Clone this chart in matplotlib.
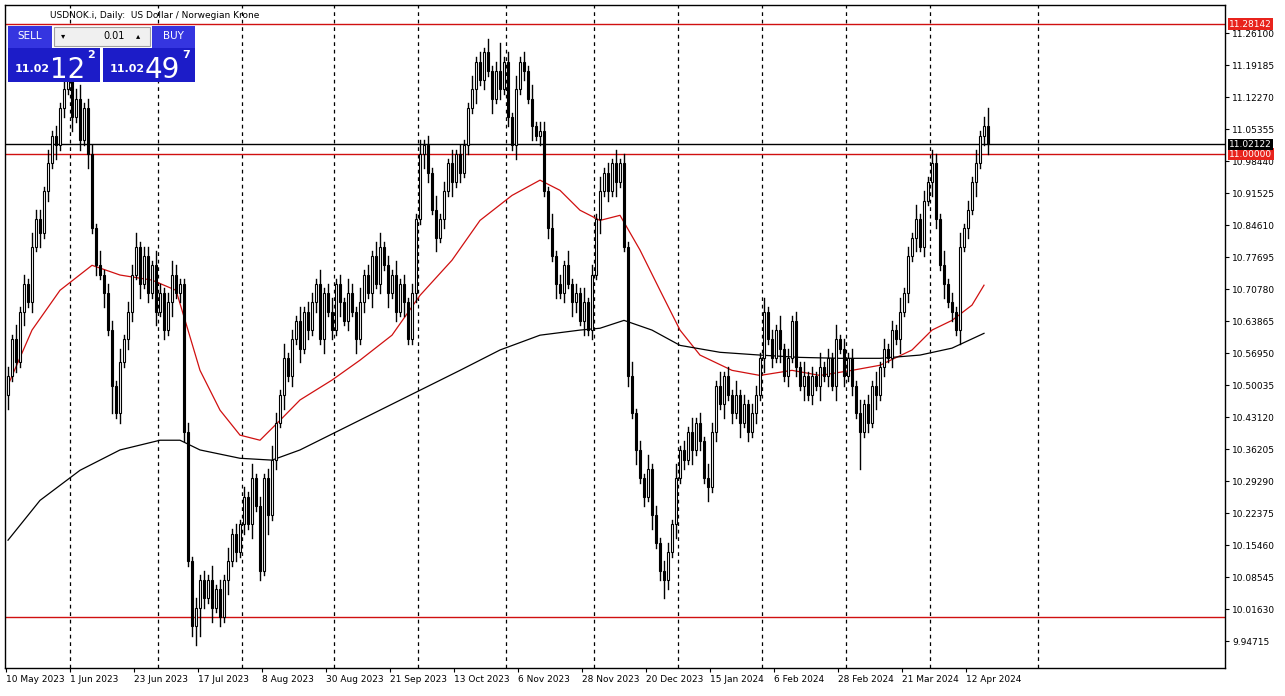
import matplotlib.pyplot as plt
import matplotlib.patches as mpatches

# daily closes, USDNOK, from 10 May 2023
closes = [
    10.52, 10.60, 10.55, 10.66, 10.72, 10.68, 10.80, 10.86, 10.83, 10.92, 10.98, 11.04, 11.02, 11.10,
    11.14, 11.18, 11.08, 11.12, 11.03, 11.10, 11.00,
    10.84, 10.76, 10.74, 10.70, 10.62, 10.50, 10.44, 10.55, 10.60, 10.66,
    10.74, 10.80, 10.72, 10.78, 10.70, 10.76, 10.66, 10.70, 10.62, 10.68, 10.74, 10.70, 10.72,
    10.40, 10.12, 9.98, 10.02, 10.08,
    10.04, 10.08, 10.02, 10.06, 10.00, 10.08, 10.12, 10.18, 10.14, 10.20,
    10.26, 10.20, 10.30, 10.24, 10.10, 10.30, 10.22, 10.34,
    10.42, 10.48, 10.56, 10.52, 10.60, 10.64, 10.58, 10.66, 10.62,
    10.68, 10.72, 10.60, 10.70, 10.66, 10.62, 10.72, 10.68, 10.64, 10.70, 10.66, 10.60, 10.68, 10.74, 10.70, 10.78, 10.72,
    10.80, 10.76, 10.70, 10.74, 10.66, 10.72, 10.68, 10.60,
    10.70, 10.86, 11.00, 11.02,
    10.96, 10.88, 10.82, 10.86, 10.92, 10.98, 10.94, 11.00, 10.96, 11.02,
    11.10, 11.14, 11.20, 11.16, 11.22, 11.18, 11.12, 11.18, 11.14, 11.20,
    11.08, 11.02, 11.14, 11.20, 11.18, 11.12, 11.06, 11.04, 11.05,
    10.92, 10.84, 10.78, 10.72, 10.70, 10.76, 10.72, 10.68,
    10.70, 10.64, 10.68, 10.62, 10.74, 10.86, 10.92, 10.96, 10.92, 10.98, 10.94, 10.98,
    10.80, 10.52, 10.44, 10.36, 10.30, 10.26, 10.32, 10.22, 10.16, 10.10, 10.08,
    10.14, 10.20, 10.30, 10.36, 10.34, 10.40, 10.36, 10.42, 10.38, 10.30, 10.28,
    10.40, 10.50, 10.46, 10.52, 10.48, 10.44, 10.48, 10.42, 10.46, 10.40, 10.44,
    10.48, 10.56, 10.66, 10.60, 10.56, 10.62, 10.58, 10.52, 10.56, 10.64,
    10.54, 10.50, 10.52, 10.48, 10.52, 10.50, 10.54, 10.52, 10.56, 10.50, 10.60, 10.58, 10.52, 10.56,
    10.50, 10.44, 10.40, 10.46, 10.42, 10.50, 10.48, 10.54, 10.58, 10.56,
    10.62, 10.60, 10.66, 10.70, 10.78, 10.82, 10.86, 10.80, 10.90, 10.94, 10.98,
    10.86, 10.76, 10.72, 10.68, 10.66, 10.62, 10.80,
    10.84, 10.88, 10.94, 10.98, 11.04, 11.06, 11.02122,
]
first_open = 10.48

# wick lengths beyond the body, in hundredths
wick_up = ("21312132213121" "3212312" "2131221312" "2312213212321"
           "12121" "2131213121" "21312123" "213121312"
           "21312312132131213" "31213121" "2131" "2131213121"
           "1312131261" "213121312" "21312131" "213121312131"
           "21312131212" "21312131213" "21312131212" "2131213121"
           "21312131213121" "2131213121" "21312131213" "2131213" "121312" "4")
wick_dn = ("31213121312131" "2131213" "1213161212" "2131213121312"
           "21246" "2131213121" "21312141" "213121312"
           "12131213121312131" "21312131" "1213" "2131213121"
           "2131213121" "213121312" "12131213" "213121312131"
           "12131213124" "21312131213" "12131213121" "2131213121"
           "21312131213121" "2181213121" "21312131213" "2131213" "121312" "2")

ma50_bar = [0, 6, 13, 21, 28, 36, 42, 45, 48, 53, 58, 63, 68, 73, 81, 88, 96, 103, 111, 118, 126,
            133, 138, 143, 148, 153, 158, 163, 168, 173, 181, 188, 196, 203, 211, 218, 226, 231, 236, 241, 244]
ma50_val = [10.501, 10.620, 10.706, 10.760, 10.739, 10.728, 10.706, 10.620, 10.533, 10.447, 10.393,
            10.382, 10.425, 10.469, 10.512, 10.555, 10.609, 10.695, 10.771, 10.857, 10.911, 10.944,
            10.922, 10.879, 10.857, 10.868, 10.793, 10.706, 10.620, 10.566, 10.533, 10.522, 10.533,
            10.522, 10.533, 10.544, 10.577, 10.620, 10.641, 10.674, 10.717]
ma200_bar = [0, 8, 18, 28, 38, 43, 48, 58, 66, 73, 83, 93, 103, 113, 123, 133, 143, 148, 154, 161,
             168, 178, 188, 198, 208, 218, 228, 236, 244]
ma200_val = [10.166, 10.252, 10.317, 10.361, 10.382, 10.382, 10.361, 10.343, 10.339, 10.361, 10.404,
             10.447, 10.490, 10.533, 10.577, 10.609, 10.620, 10.624, 10.641, 10.620, 10.587, 10.572,
             10.566, 10.561, 10.559, 10.559, 10.566, 10.581, 10.613]

red_levels = [11.28142, 11.00000, 10.00000]
bid = 11.02122
tick_prices = [11.26100, 11.19185, 11.12270, 11.05355, 10.98440, 10.91525, 10.84610, 10.77695,
               10.70780, 10.63865, 10.56950, 10.50035, 10.43120, 10.36205, 10.29290, 10.22375,
               10.15460, 10.08545, 10.01630, 9.94715]
date_labels = ['10 May 2023', '1 Jun 2023', '23 Jun 2023', '17 Jul 2023', '8 Aug 2023',
               '30 Aug 2023', '21 Sep 2023', '13 Oct 2023', '6 Nov 2023', '28 Nov 2023',
               '20 Dec 2023', '15 Jan 2024', '6 Feb 2024', '28 Feb 2024', '21 Mar 2024', '12 Apr 2024']
# bar positions of month separators (Jun 2023 .. May 2024)
month_sep = [15.5, 37.5, 58.5, 81.5, 102.5, 124.5, 146.5, 167.5, 188.5, 209.5, 230.5, 257.5]

n = len(closes)
opens = [first_open] + closes[:-1]

W, H = 1285, 696
fig = plt.figure(figsize=(W / 100, H / 100), dpi=100)
ax = fig.add_axes([5 / W, 1 - 668 / H, 1220 / W, 663 / H])
ax.set_xlim(-0.75, 304.25)
ax.set_ylim(9.8898, 11.3225)

for i in range(n):
    o, c = opens[i], closes[i]
    hi = max(o, c) + int(wick_up[i % len(wick_up)]) * 0.01
    lo = min(o, c) - int(wick_dn[i % len(wick_dn)]) * 0.01
    ax.plot([i, i], [lo, hi], color='black', lw=1, zorder=3)
    body = max(abs(c - o), 0.002)
    ax.add_patch(mpatches.Rectangle((i - 0.35, min(o, c)), 0.7, body,
                                    facecolor='white' if c >= o else 'black',
                                    edgecolor='black', lw=0.8, zorder=4))

ax.plot(ma50_bar, ma50_val, color='#d01010', lw=0.9, zorder=2)
ax.plot(ma200_bar, ma200_val, color='black', lw=0.9, zorder=2)

for lv in red_levels:
    ax.axhline(lv, color='#d01010', lw=1, zorder=1)
ax.axhline(bid, color='black', lw=1, zorder=1)

for s in month_sep:
    ax.axvline(s, color='black', ls=(0, (3, 3)), lw=0.9, zorder=0)

ax.yaxis.tick_right()
ax.set_yticks(tick_prices)
ax.set_yticklabels([f'{p:.5f}' for p in tick_prices], fontsize=6.5)
ax.set_xticks([16 * k - 0.5 for k in range(len(date_labels))])
ax.set_xticklabels(date_labels, fontsize=6.5, ha='left')
ax.tick_params(length=3, width=0.8, pad=2)
for s in ax.spines.values():
    s.set_linewidth(1)

for lv, fc in [(11.28142, '#e8231c'), (11.0, '#e8231c'), (bid, 'black')]:
    ax.annotate(f'{lv:.5f}', xy=(1, lv), xycoords=('axes fraction', 'data'), xytext=(3, 0),
                textcoords='offset points', va='center', ha='left', fontsize=6.5, color='white',
                bbox=dict(boxstyle='square,pad=0.15', fc=fc, ec='none'), annotation_clip=False)

fig.text(50 / W, 1 - 15 / H, 'USDNOK.i, Daily:  US Dollar / Norwegian Krone', fontsize=6.5, va='center')

# trade panel
def box(x, y, w, h, fc, ec='none'):
    fig.patches.append(mpatches.Rectangle((x / W, 1 - (y + h) / H), w / W, h / H, fc=fc, ec=ec,
                                          lw=0.8, transform=fig.transFigure, zorder=5))

blue = '#1c1cc8'
box(8, 26, 44, 22, '#3535e0')
box(152, 26, 43, 22, '#3535e0')
box(54, 27, 96, 19, '#f0f0f0', '#a0a0a0')
box(8, 48, 92, 34, blue)
box(103, 48, 92, 34, blue)
fig.text(30 / W, 1 - 36 / H, 'SELL', color='white', fontsize=7.5, ha='center', va='center', zorder=6)
fig.text(173 / W, 1 - 36 / H, 'BUY', color='white', fontsize=7.5, ha='center', va='center', zorder=6)
fig.text(125 / W, 1 - 36 / H, '0.01', fontsize=7, ha='right', va='center', zorder=6)
fig.text(63 / W, 1 - 36 / H, '▾', fontsize=6, ha='center', va='center', zorder=6)
fig.text(138 / W, 1 - 36 / H, '▴', fontsize=6, ha='center', va='center', zorder=6)
for x0, big, sup in [(15, '12', '2'), (110, '49', '7')]:
    fig.text(x0 / W, 1 - 72 / H, '11.02', color='white', fontsize=8, fontweight='bold', zorder=6)
    fig.text((x0 + 35) / W, 1 - 78 / H, big, color='white', fontsize=20, zorder=6)
    fig.text((x0 + 72) / W, 1 - 58 / H, sup, color='white', fontsize=8, fontweight='bold', zorder=6)

fig.savefig('out.png', dpi=100, facecolor='white')
